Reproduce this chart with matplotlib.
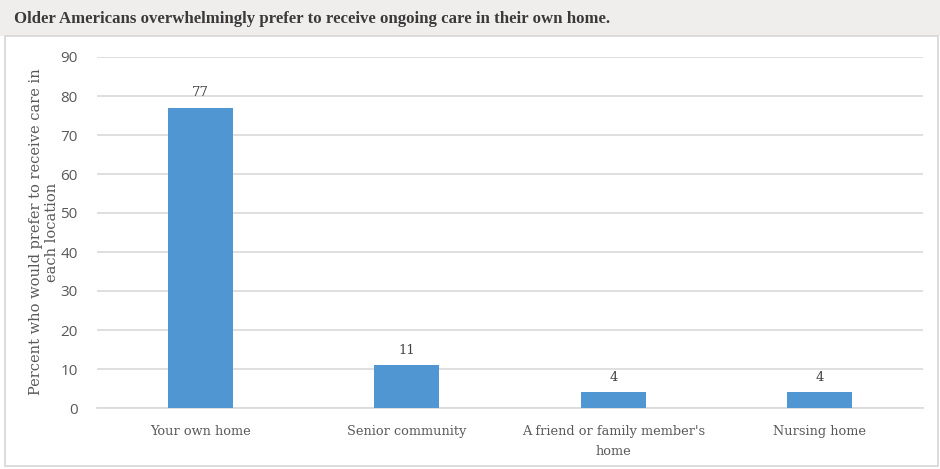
import matplotlib
matplotlib.use("Agg")
from matplotlib import pyplot as plt
from matplotlib.patches import Rectangle

categories = ["Your own home", "Senior community", "A friend or family member's\nhome", "Nursing home"]
values = [77, 11, 4, 4]
yticks = [0, 10, 20, 30, 40, 50, 60, 70, 80, 90]

TITLE = "Older Americans overwhelmingly prefer to receive ongoing care in their own home."
YLABEL = "Percent who would prefer to receive care in\neach location"

BAR_COLOR = "#5096d3"
TEXT_COLOR = "#595959"
GRID_COLOR = "#d9d9d9"

fig = plt.figure(figsize=(9.40, 4.69), dpi=100)

# title band and chart frame
fig.patches.append(Rectangle((0, 1 - 36 / 469), 1, 36 / 469, transform=fig.transFigure,
                             facecolor="#efeeec", edgecolor="none", zorder=-2))
fig.patches.append(Rectangle((5 / 940, 3 / 469), 933 / 940, 430 / 469, transform=fig.transFigure,
                             facecolor="white", edgecolor="#d6d6d6", linewidth=1.2, zorder=-1))
fig.text(14 / 940, 1 - 19 / 469, TITLE, fontsize=12.1, fontweight="bold", family="Liberation Serif",
         color="#3a3a3a", va="center", ha="left")

ax = fig.add_axes([97 / 940, 61 / 469, 826 / 940, 351 / 469])
ax.set_zorder(2)
x = range(len(categories))
bars = ax.bar(x, values, width=0.315, color=BAR_COLOR, zorder=3)
for b, v in zip(bars, values):
    ax.text(b.get_x() + b.get_width() / 2, v + 2.2, str(v), ha="center", va="bottom",
            fontsize=9.5, family="DejaVu Serif", color="#404040")

ax.set_xlim(-0.5, len(categories) - 0.5)
ax.set_ylim(0, 90)
ax.set_yticks(yticks)
ax.set_xticks(list(x))
ax.set_xticklabels(categories, family="DejaVu Serif", fontsize=9.3, color=TEXT_COLOR, linespacing=1.7)
ax.tick_params(axis="y", length=0, pad=14, labelsize=11, labelcolor=TEXT_COLOR)
ax.tick_params(axis="x", length=0, pad=12)
for lbl in ax.get_yticklabels():
    lbl.set_family("Open Sans")
ax.yaxis.grid(True, color=GRID_COLOR, linewidth=1.2, zorder=0)
for s in ["top", "right", "left"]:
    ax.spines[s].set_visible(False)
ax.spines["bottom"].set_color(GRID_COLOR)
ax.spines["bottom"].set_linewidth(1.2)
ax.set_facecolor("none")

fig.text(44 / 940, 1 - 232 / 469, YLABEL, rotation=90, ha="center", va="center",
         family="DejaVu Serif", fontsize=10.5, color=TEXT_COLOR, linespacing=1.1)

fig.savefig("out.png", dpi=100)
